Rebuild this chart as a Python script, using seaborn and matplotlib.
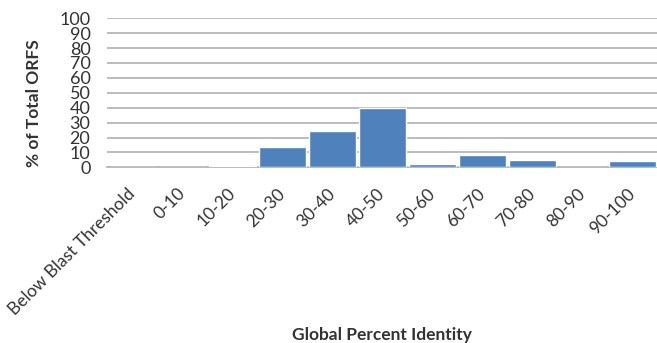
import matplotlib
matplotlib.use("Agg")
import matplotlib.pyplot as plt
import matplotlib.transforms as mtransforms
import seaborn as sns
import pandas as pd

categories = ["Below Blast Threshold", "0-10", "10-20", "20-30", "30-40", "40-50",
              "50-60", "60-70", "70-80", "80-90", "90-100"]
percent_orfs = [0, 0, 1.0, 13.6, 24.4, 40.0, 2.4, 8.0, 4.9, 0, 4.2]
y_ticks = [0, 10, 20, 30, 40, 50, 60, 70, 80, 90, 100]

df = pd.DataFrame({"identity": categories, "pct": percent_orfs})

sns.set_style("white")
plt.rcParams["font.family"] = ["Lato", "DejaVu Sans"]

fig = plt.figure(figsize=(6.57, 3.43), dpi=100)
ax = fig.add_axes([0.163, 0.512, 0.837, 0.435])

sns.barplot(data=df, x="identity", y="pct", color="#4F81BD", saturation=1,
            width=0.94, ax=ax, zorder=3)

ax.set_ylim(0, 100)
ax.set_xlim(-0.5, len(categories) - 0.5)
ax.set_yticks(y_ticks)
ax.set_yticklabels([str(v) for v in y_ticks], fontsize=13, color="#333333")
ax.yaxis.grid(True, color="#b0b0b0", linewidth=1.2, zorder=0)
ax.set_axisbelow(True)
for side in ["top", "right", "left"]:
    ax.spines[side].set_visible(False)
ax.spines["bottom"].set_color("#b0b0b0")
ax.spines["bottom"].set_linewidth(1.2)
ax.tick_params(axis="y", length=0, pad=12)
ax.tick_params(axis="x", length=0, pad=0)

# rotated category labels: upper-right end sits just below each bar slot
offset = mtransforms.ScaledTranslation(-5 / 100, -18 / 100, fig.dpi_scale_trans)
for lbl in ax.get_xticklabels():
    lbl.set_rotation(45)
    lbl.set_ha("right")
    lbl.set_va("top")
    lbl.set_rotation_mode("anchor")
    lbl.set_fontsize(12.5)
    lbl.set_color("#333333")
    lbl.set_transform(lbl.get_transform() + offset)

ax.set_xlabel("Global Percent Identity", fontsize=12.5, fontweight="bold", color="#333333")
ax.set_ylabel("% of Total ORFS", fontsize=12.5, fontweight="bold", color="#333333")
ax.xaxis.set_label_coords(0.50, -1.07)
ax.yaxis.set_label_coords(-0.118, 0.43)

fig.savefig("out.png", dpi=100)
